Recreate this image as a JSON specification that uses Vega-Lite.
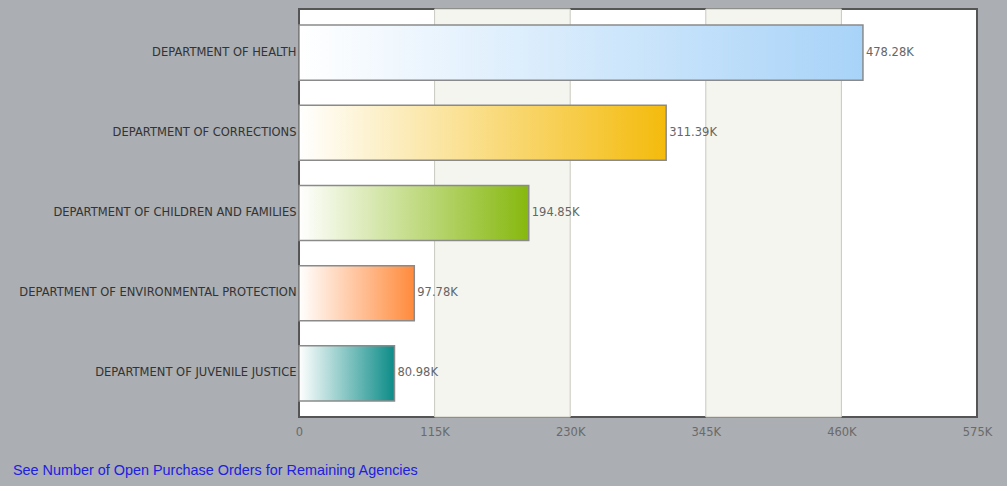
{
  "$schema": "https://vega.github.io/schema/vega-lite/v6.json",
  "width": 678,
  "height": 408,
  "padding": {"left": 5, "top": 8, "right": 25, "bottom": 10},
  "background": "#abaeb2",
  "view": {"fill": "#ffffff", "stroke": "#555555", "strokeWidth": 2},
  "config": {"font": "DejaVu Sans"},
  "title": {
    "text": "See Number of Open Purchase Orders for Remaining Agencies",
    "orient": "bottom",
    "anchor": "start",
    "frame": "group",
    "dx": -286,
    "offset": 26,
    "font": "Liberation Sans",
    "fontSize": 14.4,
    "fontWeight": "normal",
    "color": "#2020e0"
  },
  "datasets": {
    "agencies": [
      {"agency": "DEPARTMENT OF HEALTH", "orders": 478280, "label": "478.28K"},
      {"agency": "DEPARTMENT OF CORRECTIONS", "orders": 311390, "label": "311.39K"},
      {"agency": "DEPARTMENT OF CHILDREN AND FAMILIES", "orders": 194850, "label": "194.85K"},
      {"agency": "DEPARTMENT OF ENVIRONMENTAL PROTECTION", "orders": 97780, "label": "97.78K"},
      {"agency": "DEPARTMENT OF JUVENILE JUSTICE", "orders": 80980, "label": "80.98K"}
    ],
    "bands": [
      {"start": 115000, "end": 230000},
      {"start": 345000, "end": 460000}
    ]
  },
  "resolve": {"scale": {"x": "shared", "y": "shared"}},
  "layer": [
    {
      "data": {"name": "bands"},
      "mark": {"type": "rect", "fill": "#f5f5f0", "stroke": "#c8c8c0", "strokeWidth": 1},
      "encoding": {
        "x": {
          "field": "start", "type": "quantitative",
          "scale": {"domain": [0, 575000], "nice": false, "zero": true},
          "axis": {
            "values": [0, 115000, 230000, 345000, 460000, 575000],
            "labelExpr": "datum.value == 0 ? '0' : (datum.value / 1000) + 'K'",
            "title": null, "domain": false, "ticks": false, "grid": false,
            "labelColor": "#6a6a6a", "labelFontSize": 11.5, "labelPadding": 9,
            "labelFont": "DejaVu Sans", "labelFlush": false, "labelOverlap": false
          }
        },
        "x2": {"field": "end"}
      }
    },
    {
      "data": {"name": "agencies"},
      "layer": [
        {
          "transform": [{"filter": "datum.agency == 'DEPARTMENT OF HEALTH'"}],
          "mark": {"type": "bar", "stroke": "#8a8a8a", "strokeWidth": 1.5, "color": {"gradient": "linear", "x1": 0, "x2": 1, "y1": 0, "y2": 0, "stops": [{"offset": 0, "color": "#ffffff"}, {"offset": 1, "color": "#a8d3f8"}]}}
        },
        {
          "transform": [{"filter": "datum.agency == 'DEPARTMENT OF CORRECTIONS'"}],
          "mark": {"type": "bar", "stroke": "#8a8a8a", "strokeWidth": 1.5, "color": {"gradient": "linear", "x1": 0, "x2": 1, "y1": 0, "y2": 0, "stops": [{"offset": 0, "color": "#ffffff"}, {"offset": 1, "color": "#f4bb0c"}]}}
        },
        {
          "transform": [{"filter": "datum.agency == 'DEPARTMENT OF CHILDREN AND FAMILIES'"}],
          "mark": {"type": "bar", "stroke": "#8a8a8a", "strokeWidth": 1.5, "color": {"gradient": "linear", "x1": 0, "x2": 1, "y1": 0, "y2": 0, "stops": [{"offset": 0, "color": "#ffffff"}, {"offset": 1, "color": "#86b80e"}]}}
        },
        {
          "transform": [{"filter": "datum.agency == 'DEPARTMENT OF ENVIRONMENTAL PROTECTION'"}],
          "mark": {"type": "bar", "stroke": "#8a8a8a", "strokeWidth": 1.5, "color": {"gradient": "linear", "x1": 0, "x2": 1, "y1": 0, "y2": 0, "stops": [{"offset": 0, "color": "#ffffff"}, {"offset": 1, "color": "#ff8a3c"}]}}
        },
        {
          "transform": [{"filter": "datum.agency == 'DEPARTMENT OF JUVENILE JUSTICE'"}],
          "mark": {"type": "bar", "stroke": "#8a8a8a", "strokeWidth": 1.5, "color": {"gradient": "linear", "x1": 0, "x2": 1, "y1": 0, "y2": 0, "stops": [{"offset": 0, "color": "#ffffff"}, {"offset": 1, "color": "#0c8c88"}]}}
        },
        {
          "mark": {"type": "text", "align": "left", "baseline": "middle", "dx": 3, "fontSize": 11.5, "color": "#666666", "font": "DejaVu Sans"},
          "encoding": {"text": {"field": "label"}}
        }
      ],
      "encoding": {
        "x": {"field": "orders", "type": "quantitative"},
        "y": {
          "field": "agency", "type": "nominal", "sort": null,
          "scale": {"paddingInner": 0.3125, "paddingOuter": 0.2, "align": 0.5},
          "axis": {
            "title": null, "domain": false, "ticks": false, "grid": false,
            "labelColor": "#333333", "labelFontSize": 11.5, "labelPadding": 3,
            "labelFont": "DejaVu Sans", "minExtent": 294, "maxExtent": 294, "labelLimit": 300
          }
        }
      }
    }
  ]
}
